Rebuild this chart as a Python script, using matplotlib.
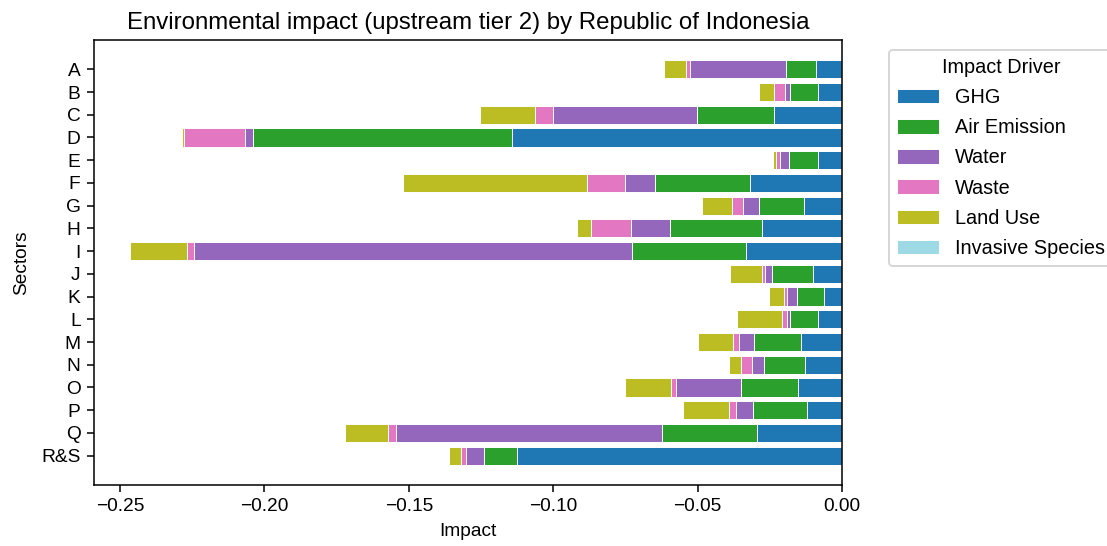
import matplotlib
matplotlib.use("Agg")
import matplotlib.pyplot as plt
import numpy as np

plt.rcParams['font.family'] = ['Liberation Sans', 'DejaVu Sans']
plt.rcParams['font.size'] = 10

sectors = ["A", "B", "C", "D", "E", "F", "G", "H", "I", "J", "K", "L", "M", "N", "O", "P", "Q", "R&S"]

ghg = [-0.0089, -0.0084, -0.0236, -0.1142, -0.0084, -0.0317, -0.0132, -0.0278, -0.0332,
       -0.0102, -0.0064, -0.0082, -0.0143, -0.0127, -0.0153, -0.0122, -0.0293, -0.1124]
air_emission = [-0.0104, -0.0096, -0.0267, -0.0896, -0.0101, -0.0329, -0.0156, -0.0317, -0.0394,
                -0.0139, -0.0092, -0.0097, -0.0161, -0.0144, -0.0195, -0.0186, -0.0329, -0.0114]
water = [-0.0332, -0.0018, -0.0496, -0.0029, -0.0029, -0.0104, -0.0054, -0.0136, -0.1518,
         -0.0025, -0.0035, -0.0012, -0.0054, -0.0040, -0.0225, -0.0059, -0.0922, -0.0065]
waste = [-0.0015, -0.0039, -0.0065, -0.0211, -0.0013, -0.0131, -0.0040, -0.0139, -0.0022,
         -0.0010, -0.0010, -0.0015, -0.0018, -0.0040, -0.0018, -0.0025, -0.0027, -0.0015]
land_use = [-0.0075, -0.0050, -0.0188, -0.0008, -0.0012, -0.0637, -0.0104, -0.0049, -0.0200,
            -0.0111, -0.0050, -0.0156, -0.0122, -0.0040, -0.0159, -0.0159, -0.0151, -0.0044]
invasive_species = [0.0] * len(sectors)

drivers = ["GHG", "Air Emission", "Water", "Waste", "Land Use", "Invasive Species"]
colors = ["#1f77b4", "#2ca02c", "#9467bd", "#e377c2", "#bcbd22", "#9edae5"]
series = [ghg, air_emission, water, waste, land_use, invasive_species]

dpi = 138
fig = plt.figure(figsize=(1107 / dpi, 546 / dpi), dpi=dpi)
ax = fig.add_axes([94 / 1107, 1 - 485 / 546, (842 - 94) / 1107, (485 - 40) / 546])

y = np.arange(len(sectors))
left = np.zeros(len(sectors))
for name, vals, c in zip(drivers, series, colors):
    vals = np.array(vals)
    ax.barh(y, vals, left=left, height=0.8, color=c, edgecolor="white", linewidth=0.5, label=name)
    left = left + vals

xmin = left.min()
ax.set_xlim(xmin * 1.05, 0)
ax.set_yticks(y)
ax.set_yticklabels(sectors)
ax.invert_yaxis()
ax.set_xlabel("Impact")
ax.set_ylabel("Sectors", labelpad=6)
ax.set_title("Environmental impact (upstream tier 2) by Republic of Indonesia", fontsize=12.5)
leg = ax.legend(title="Impact Driver", bbox_to_anchor=(1.05, 1), loc="upper left",
                fontsize=10.4, title_fontsize=10.4, labelspacing=0.56,
                handlelength=2.1, handleheight=0.75)

fig.savefig("out.png", dpi=dpi)
